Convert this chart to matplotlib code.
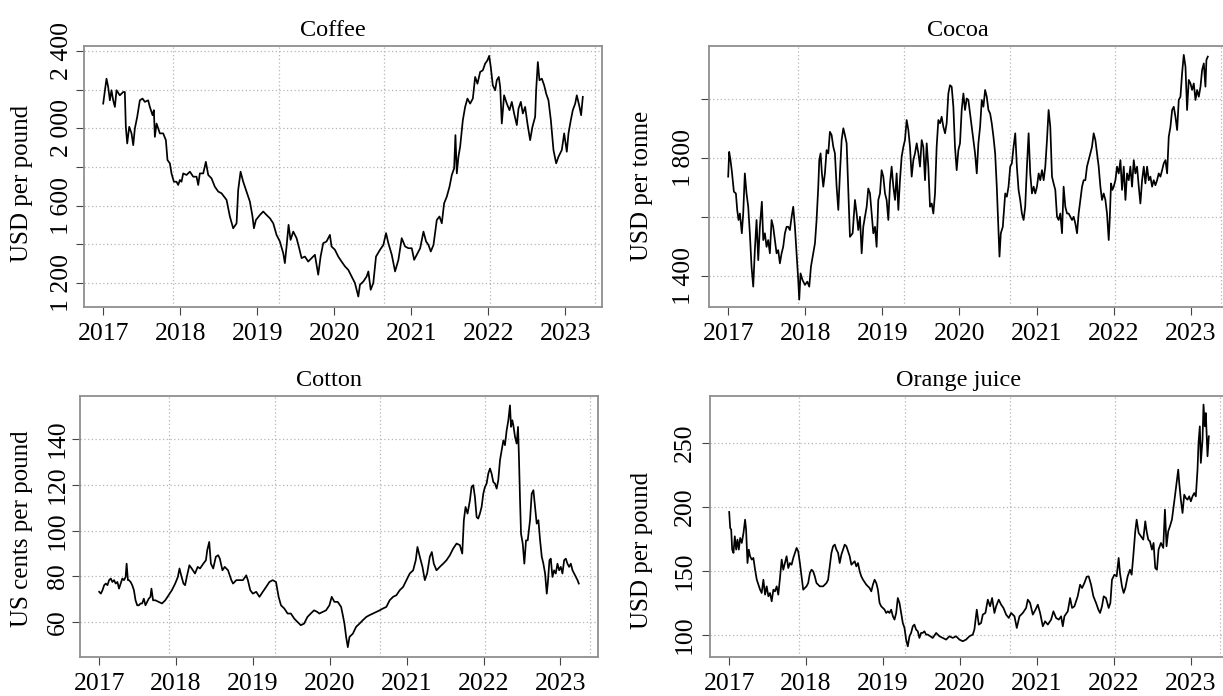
import calendar
import numpy as np
import pandas as pd
import matplotlib
matplotlib.use("Agg")
import matplotlib.pyplot as plt
import matplotlib.dates as mdates

# Preços diários (amostrados) de commodities, 2017 – mar/2023: (ano decimal, preço)
COFFEE = [
    (2017.000, 2128), (2017.043, 2257), (2017.065, 2214), (2017.087, 2145), (2017.108, 2197),
    (2017.130, 2145), (2017.152, 2111), (2017.173, 2197), (2017.216, 2171), (2017.260, 2188),
    (2017.281, 2188), (2017.294, 2008), (2017.312, 1922), (2017.338, 2008), (2017.368, 1974),
    (2017.390, 1913), (2017.411, 1999), (2017.442, 2060), (2017.476, 2145), (2017.511, 2154),
    (2017.541, 2137), (2017.584, 2145), (2017.606, 2111), (2017.641, 2068), (2017.658, 2094),
    (2017.671, 1956), (2017.693, 2025), (2017.736, 1974), (2017.779, 1974), (2017.814, 1939),
    (2017.835, 1836), (2017.866, 1819), (2017.887, 1767), (2017.918, 1724), (2017.952, 1724),
    (2017.974, 1707), (2017.996, 1733), (2018.017, 1724), (2018.039, 1767), (2018.082, 1759),
    (2018.126, 1776), (2018.169, 1750), (2018.212, 1750), (2018.234, 1707), (2018.255, 1767),
    (2018.299, 1767), (2018.333, 1827), (2018.364, 1759), (2018.407, 1741), (2018.450, 1698),
    (2018.494, 1673), (2018.537, 1664), (2018.602, 1630), (2018.645, 1544), (2018.688, 1483),
    (2018.732, 1509), (2018.753, 1681), (2018.784, 1776), (2018.818, 1724), (2018.861, 1673),
    (2018.905, 1621), (2018.939, 1544), (2018.957, 1483), (2018.983, 1526), (2019.035, 1552),
    (2019.078, 1570), (2019.121, 1552), (2019.165, 1535), (2019.208, 1509), (2019.251, 1449),
    (2019.294, 1415), (2019.338, 1354), (2019.359, 1303), (2019.381, 1389), (2019.407, 1501),
    (2019.433, 1423), (2019.468, 1466), (2019.511, 1432), (2019.545, 1380), (2019.576, 1329),
    (2019.619, 1337), (2019.662, 1311), (2019.706, 1329), (2019.749, 1346), (2019.792, 1243),
    (2019.823, 1337), (2019.857, 1406), (2019.900, 1415), (2019.944, 1449), (2019.965, 1389),
    (2020.009, 1372), (2020.052, 1337), (2020.095, 1311), (2020.139, 1286), (2020.182, 1268),
    (2020.225, 1234), (2020.268, 1200), (2020.312, 1130), (2020.333, 1191), (2020.377, 1208),
    (2020.420, 1234), (2020.442, 1260), (2020.472, 1165), (2020.506, 1200), (2020.541, 1337),
    (2020.593, 1372), (2020.636, 1397), (2020.671, 1458), (2020.701, 1406), (2020.745, 1346),
    (2020.788, 1260), (2020.831, 1320), (2020.874, 1432), (2020.918, 1389), (2020.961, 1380),
    (2021.004, 1380), (2021.035, 1320), (2021.069, 1346), (2021.113, 1380), (2021.156, 1466),
    (2021.190, 1415), (2021.221, 1397), (2021.251, 1363), (2021.286, 1397), (2021.329, 1526),
    (2021.364, 1544), (2021.394, 1509), (2021.424, 1612), (2021.459, 1647), (2021.494, 1698),
    (2021.524, 1759), (2021.554, 1793), (2021.571, 1965), (2021.589, 1767), (2021.610, 1853),
    (2021.632, 1905), (2021.667, 2042), (2021.697, 2111), (2021.727, 2154), (2021.762, 2128),
    (2021.797, 2154), (2021.827, 2266), (2021.857, 2231), (2021.892, 2292), (2021.926, 2300),
    (2021.957, 2335), (2021.987, 2352), (2022.009, 2375), (2022.030, 2317), (2022.056, 2223),
    (2022.087, 2197), (2022.108, 2249), (2022.134, 2266), (2022.152, 2214), (2022.173, 2025),
    (2022.203, 2171), (2022.238, 2128), (2022.273, 2094), (2022.303, 2137), (2022.333, 2077),
    (2022.368, 2017), (2022.390, 2102), (2022.420, 2137), (2022.446, 2077), (2022.476, 2111),
    (2022.506, 2025), (2022.541, 1939), (2022.571, 2008), (2022.606, 2060), (2022.619, 2197),
    (2022.641, 2343), (2022.662, 2249), (2022.693, 2257), (2022.723, 2223), (2022.749, 2180),
    (2022.779, 2145), (2022.810, 2042), (2022.844, 1888), (2022.879, 1819), (2022.909, 1853),
    (2022.952, 1888), (2022.983, 1974), (2023.017, 1879), (2023.039, 1974), (2023.069, 2042),
    (2023.095, 2094), (2023.126, 2128), (2023.147, 2171), (2023.182, 2111), (2023.203, 2068),
    (2023.225, 2163),
]

COCOA = [
    (2017.000, 1737), (2017.013, 1821), (2017.030, 1793), (2017.048, 1754), (2017.074, 1686),
    (2017.100, 1680), (2017.117, 1624), (2017.134, 1590), (2017.152, 1612), (2017.177, 1545),
    (2017.195, 1612), (2017.216, 1748), (2017.238, 1680), (2017.260, 1635), (2017.281, 1545),
    (2017.303, 1432), (2017.325, 1364), (2017.346, 1488), (2017.368, 1590), (2017.390, 1454),
    (2017.411, 1567), (2017.437, 1652), (2017.455, 1522), (2017.476, 1545), (2017.498, 1499),
    (2017.519, 1522), (2017.541, 1477), (2017.563, 1590), (2017.584, 1567), (2017.606, 1522),
    (2017.628, 1477), (2017.649, 1488), (2017.671, 1443), (2017.693, 1477), (2017.714, 1499),
    (2017.736, 1545), (2017.758, 1567), (2017.779, 1567), (2017.801, 1556), (2017.823, 1601),
    (2017.844, 1635), (2017.866, 1567), (2017.887, 1477), (2017.909, 1386), (2017.922, 1320),
    (2017.939, 1409), (2017.965, 1386), (2017.996, 1370), (2018.026, 1381), (2018.052, 1364),
    (2018.074, 1432), (2018.104, 1477), (2018.126, 1511), (2018.147, 1590), (2018.169, 1703),
    (2018.182, 1793), (2018.199, 1816), (2018.216, 1748), (2018.234, 1703), (2018.255, 1748),
    (2018.277, 1827), (2018.299, 1816), (2018.320, 1889), (2018.342, 1878), (2018.364, 1838),
    (2018.385, 1816), (2018.407, 1703), (2018.429, 1624), (2018.450, 1748), (2018.472, 1861),
    (2018.494, 1901), (2018.515, 1878), (2018.537, 1850), (2018.558, 1692), (2018.580, 1533),
    (2018.615, 1545), (2018.645, 1658), (2018.667, 1612), (2018.688, 1556), (2018.710, 1601),
    (2018.732, 1477), (2018.753, 1567), (2018.775, 1601), (2018.797, 1635), (2018.818, 1697),
    (2018.840, 1680), (2018.861, 1612), (2018.883, 1545), (2018.905, 1567), (2018.926, 1499),
    (2018.948, 1658), (2018.970, 1680), (2018.991, 1759), (2019.013, 1737), (2019.035, 1680),
    (2019.056, 1658), (2019.078, 1590), (2019.100, 1714), (2019.121, 1771), (2019.143, 1703),
    (2019.165, 1658), (2019.186, 1748), (2019.208, 1624), (2019.229, 1725), (2019.251, 1805),
    (2019.273, 1838), (2019.294, 1861), (2019.316, 1929), (2019.338, 1895), (2019.359, 1838),
    (2019.381, 1737), (2019.403, 1793), (2019.424, 1816), (2019.446, 1850), (2019.468, 1816),
    (2019.489, 1771), (2019.511, 1861), (2019.532, 1838), (2019.554, 1725), (2019.576, 1850),
    (2019.597, 1771), (2019.619, 1635), (2019.641, 1646), (2019.662, 1612), (2019.684, 1680),
    (2019.705, 1838), (2019.727, 1929), (2019.749, 1918), (2019.770, 1940), (2019.792, 1906),
    (2019.814, 1884), (2019.835, 1918), (2019.857, 2019), (2019.878, 2047), (2019.900, 2042),
    (2019.922, 1974), (2019.943, 1838), (2019.965, 1759), (2019.987, 1827), (2020.008, 1850),
    (2020.030, 1963), (2020.052, 2019), (2020.073, 1963), (2020.095, 2002), (2020.116, 1997),
    (2020.138, 1951), (2020.160, 1906), (2020.181, 1861), (2020.203, 1816), (2020.225, 1748),
    (2020.246, 1850), (2020.268, 1906), (2020.290, 1997), (2020.311, 1974), (2020.333, 2031),
    (2020.354, 2008), (2020.376, 1963), (2020.398, 1951), (2020.419, 1918), (2020.441, 1872),
    (2020.463, 1816), (2020.484, 1703), (2020.506, 1556), (2020.519, 1466), (2020.536, 1545),
    (2020.562, 1567), (2020.593, 1680), (2020.614, 1669), (2020.636, 1703), (2020.658, 1771),
    (2020.679, 1782), (2020.701, 1838), (2020.723, 1884), (2020.744, 1771), (2020.766, 1692),
    (2020.787, 1658), (2020.809, 1612), (2020.831, 1590), (2020.852, 1635), (2020.874, 1771),
    (2020.896, 1884), (2020.917, 1748), (2020.939, 1680), (2020.961, 1703), (2020.982, 1680),
    (2021.004, 1703), (2021.026, 1748), (2021.047, 1725), (2021.069, 1759), (2021.091, 1725),
    (2021.112, 1771), (2021.134, 1861), (2021.155, 1963), (2021.177, 1906), (2021.199, 1737),
    (2021.220, 1714), (2021.242, 1692), (2021.264, 1601), (2021.285, 1590), (2021.307, 1612),
    (2021.329, 1545), (2021.350, 1703), (2021.372, 1635), (2021.394, 1612), (2021.415, 1612),
    (2021.437, 1601), (2021.459, 1590), (2021.480, 1601), (2021.502, 1578), (2021.524, 1545),
    (2021.545, 1612), (2021.567, 1658), (2021.589, 1703), (2021.610, 1725), (2021.632, 1725),
    (2021.653, 1771), (2021.675, 1793), (2021.697, 1816), (2021.718, 1838), (2021.740, 1884),
    (2021.762, 1861), (2021.783, 1816), (2021.805, 1771), (2021.827, 1703), (2021.848, 1658),
    (2021.870, 1680), (2021.892, 1658), (2021.913, 1612), (2021.935, 1522), (2021.948, 1590),
    (2021.965, 1714), (2021.983, 1692), (2022.000, 1703), (2022.022, 1725), (2022.043, 1771),
    (2022.065, 1748), (2022.087, 1793), (2022.108, 1692), (2022.130, 1771), (2022.152, 1658),
    (2022.173, 1748), (2022.195, 1725), (2022.216, 1771), (2022.238, 1703), (2022.260, 1793),
    (2022.281, 1748), (2022.303, 1771), (2022.325, 1703), (2022.346, 1646), (2022.368, 1725),
    (2022.390, 1771), (2022.411, 1714), (2022.433, 1771), (2022.455, 1725), (2022.476, 1737),
    (2022.498, 1703), (2022.519, 1725), (2022.541, 1708), (2022.563, 1725), (2022.584, 1748),
    (2022.606, 1737), (2022.628, 1759), (2022.649, 1782), (2022.671, 1793), (2022.693, 1748),
    (2022.714, 1872), (2022.736, 1906), (2022.758, 1963), (2022.779, 1974), (2022.801, 1940),
    (2022.823, 1895), (2022.844, 1997), (2022.866, 2008), (2022.887, 2087), (2022.909, 2150),
    (2022.931, 2110), (2022.952, 1963), (2022.974, 2065), (2022.996, 2053), (2023.017, 2031),
    (2023.039, 2053), (2023.061, 1997), (2023.082, 2031), (2023.104, 2008), (2023.126, 2042),
    (2023.147, 2099), (2023.169, 2121), (2023.190, 2042), (2023.203, 2133), (2023.221, 2144),
]

COTTON = [
    (2017.000, 73.2), (2017.022, 72.4), (2017.043, 73.9), (2017.065, 76.1), (2017.086, 76.8),
    (2017.108, 76.1), (2017.129, 78.3), (2017.151, 79.0), (2017.172, 77.5), (2017.194, 78.3),
    (2017.215, 76.8), (2017.237, 77.5), (2017.258, 74.6), (2017.280, 76.8), (2017.301, 79.0),
    (2017.323, 78.3), (2017.344, 79.7), (2017.357, 85.5), (2017.374, 78.3), (2017.387, 78.3),
    (2017.409, 77.5), (2017.430, 76.1), (2017.452, 73.9), (2017.473, 69.5), (2017.495, 67.3),
    (2017.516, 67.3), (2017.538, 68.1), (2017.559, 68.1), (2017.581, 70.2), (2017.602, 67.3),
    (2017.624, 68.8), (2017.645, 70.2), (2017.667, 71.0), (2017.680, 74.6), (2017.701, 69.5),
    (2017.731, 69.5), (2017.774, 68.8), (2017.817, 68.1), (2017.860, 69.5), (2017.903, 71.7),
    (2017.946, 73.9), (2017.989, 76.8), (2018.024, 79.7), (2018.045, 83.4), (2018.067, 80.4),
    (2018.097, 76.8), (2018.118, 76.1), (2018.140, 79.7), (2018.174, 84.8), (2018.204, 83.4),
    (2018.247, 81.2), (2018.282, 84.1), (2018.312, 83.4), (2018.355, 85.5), (2018.389, 87.0),
    (2018.406, 91.4), (2018.432, 95.0), (2018.454, 85.5), (2018.484, 83.4), (2018.518, 88.5),
    (2018.548, 89.2), (2018.570, 87.7), (2018.604, 82.6), (2018.634, 84.1), (2018.677, 82.6),
    (2018.720, 78.3), (2018.742, 76.8), (2018.785, 78.3), (2018.828, 78.3), (2018.871, 78.3),
    (2018.914, 80.4), (2018.935, 78.3), (2018.966, 73.9), (2019.000, 72.4), (2019.043, 73.2),
    (2019.086, 71.0), (2019.129, 73.2), (2019.172, 75.3), (2019.215, 77.5), (2019.258, 78.3),
    (2019.301, 77.5), (2019.335, 71.0), (2019.366, 67.3), (2019.409, 65.9), (2019.452, 63.7),
    (2019.495, 63.7), (2019.538, 61.5), (2019.581, 60.0), (2019.624, 58.6), (2019.667, 59.3),
    (2019.710, 62.2), (2019.753, 63.7), (2019.796, 65.1), (2019.839, 64.4), (2019.865, 63.7),
    (2019.909, 64.4), (2019.952, 65.1), (2019.996, 67.3), (2020.026, 71.0), (2020.061, 68.8),
    (2020.104, 68.8), (2020.148, 66.6), (2020.170, 63.0), (2020.191, 59.3), (2020.213, 53.5),
    (2020.235, 49.0), (2020.257, 53.5), (2020.300, 54.9), (2020.343, 57.9), (2020.387, 59.3),
    (2020.430, 60.8), (2020.474, 62.2), (2020.517, 63.0), (2020.561, 63.7), (2020.604, 64.4),
    (2020.648, 65.1), (2020.691, 65.9), (2020.735, 66.6), (2020.778, 69.5), (2020.822, 71.0),
    (2020.865, 71.7), (2020.909, 73.9), (2020.952, 75.3), (2020.996, 78.3), (2021.039, 81.2),
    (2021.083, 82.6), (2021.117, 87.0), (2021.139, 92.8), (2021.170, 88.5), (2021.204, 84.1),
    (2021.235, 78.3), (2021.265, 81.2), (2021.300, 88.5), (2021.326, 90.6), (2021.352, 85.5),
    (2021.387, 82.6), (2021.430, 84.1), (2021.474, 85.5), (2021.517, 87.0), (2021.561, 89.2),
    (2021.604, 92.1), (2021.648, 94.3), (2021.691, 93.6), (2021.722, 89.9), (2021.743, 104.5),
    (2021.765, 110.3), (2021.791, 107.4), (2021.822, 113.2), (2021.843, 119.0), (2021.865, 119.8),
    (2021.887, 114.7), (2021.909, 105.9), (2021.930, 105.2), (2021.952, 107.4), (2021.974, 110.3),
    (2021.996, 116.1), (2022.017, 119.0), (2022.039, 120.5), (2022.061, 124.9), (2022.083, 127.1),
    (2022.104, 124.9), (2022.126, 121.2), (2022.148, 120.5), (2022.170, 118.3), (2022.191, 122.0),
    (2022.213, 130.7), (2022.235, 135.1), (2022.257, 139.4), (2022.278, 137.3), (2022.300, 143.8),
    (2022.322, 148.2), (2022.343, 154.7), (2022.357, 145.3), (2022.374, 148.2), (2022.387, 146.0),
    (2022.409, 140.9), (2022.430, 138.0), (2022.448, 145.3), (2022.461, 130.7), (2022.474, 113.2),
    (2022.487, 98.6), (2022.509, 94.3), (2022.530, 85.5), (2022.552, 95.7), (2022.574, 95.7),
    (2022.604, 104.5), (2022.626, 116.1), (2022.648, 117.6), (2022.670, 110.3), (2022.691, 103.0),
    (2022.713, 104.5), (2022.735, 95.7), (2022.757, 88.5), (2022.778, 85.5), (2022.800, 81.2),
    (2022.822, 72.4), (2022.835, 76.8), (2022.857, 87.0), (2022.874, 87.7), (2022.896, 79.7),
    (2022.917, 82.6), (2022.939, 81.2), (2022.961, 85.5), (2022.983, 82.6), (2023.004, 84.1),
    (2023.026, 81.2), (2023.048, 87.0), (2023.070, 87.7), (2023.091, 85.5), (2023.113, 84.1),
    (2023.135, 85.5), (2023.157, 82.6), (2023.178, 81.2), (2023.200, 79.7), (2023.222, 78.3),
    (2023.239, 76.8),
]

ORANGE_JUICE = [
    (2017.000, 196.1), (2017.013, 183.6), (2017.026, 182.3), (2017.039, 166.7), (2017.056, 164.1),
    (2017.073, 177.1), (2017.091, 166.7), (2017.108, 174.5), (2017.125, 166.7), (2017.143, 175.8),
    (2017.164, 171.9), (2017.186, 179.7), (2017.207, 190.1), (2017.220, 182.3), (2017.238, 156.2),
    (2017.255, 166.7), (2017.272, 161.5), (2017.294, 158.9), (2017.315, 160.2), (2017.337, 151.0),
    (2017.359, 143.2), (2017.380, 139.3), (2017.402, 135.4), (2017.423, 132.8), (2017.445, 143.2),
    (2017.467, 131.5), (2017.488, 138.0), (2017.510, 130.2), (2017.531, 132.8), (2017.553, 126.3),
    (2017.575, 135.4), (2017.596, 134.1), (2017.618, 138.0), (2017.639, 131.5), (2017.661, 144.5),
    (2017.683, 158.9), (2017.704, 151.0), (2017.726, 156.2), (2017.747, 161.5), (2017.769, 152.3),
    (2017.790, 156.2), (2017.812, 154.9), (2017.834, 160.2), (2017.855, 164.1), (2017.877, 168.0),
    (2017.898, 165.4), (2017.920, 156.2), (2017.942, 145.8), (2017.963, 135.4), (2017.985, 136.7),
    (2018.006, 138.0), (2018.028, 140.6), (2018.050, 148.4), (2018.071, 151.0), (2018.093, 149.7),
    (2018.114, 145.8), (2018.136, 140.6), (2018.158, 139.3), (2018.179, 138.0), (2018.222, 138.0),
    (2018.266, 140.6), (2018.287, 143.2), (2018.309, 153.6), (2018.330, 164.1), (2018.352, 169.3),
    (2018.374, 170.6), (2018.395, 166.7), (2018.417, 164.1), (2018.438, 156.2), (2018.460, 162.8),
    (2018.482, 166.7), (2018.503, 170.6), (2018.525, 169.3), (2018.546, 165.4), (2018.568, 161.5),
    (2018.590, 154.9), (2018.611, 156.2), (2018.633, 157.6), (2018.654, 153.6), (2018.676, 156.2),
    (2018.698, 149.7), (2018.719, 145.8), (2018.741, 143.2), (2018.784, 139.3), (2018.827, 136.7),
    (2018.849, 134.1), (2018.870, 139.3), (2018.892, 143.2), (2018.914, 140.6), (2018.935, 135.4),
    (2018.957, 125.0), (2018.978, 122.4), (2019.000, 121.1), (2019.022, 119.8), (2019.043, 117.2),
    (2019.065, 118.5), (2019.086, 117.2), (2019.108, 119.8), (2019.130, 114.6), (2019.151, 112.0),
    (2019.173, 117.2), (2019.194, 128.9), (2019.216, 125.0), (2019.238, 117.2), (2019.259, 109.4),
    (2019.281, 105.5), (2019.302, 96.4), (2019.324, 91.1), (2019.346, 99.0), (2019.367, 101.6),
    (2019.389, 106.8), (2019.410, 108.1), (2019.432, 104.2), (2019.454, 102.9), (2019.475, 97.7),
    (2019.497, 101.6), (2019.518, 101.6), (2019.540, 102.9), (2019.562, 100.3), (2019.583, 100.3),
    (2019.649, 97.7), (2019.693, 101.6), (2019.736, 99.0), (2019.779, 97.7), (2019.823, 96.4),
    (2019.866, 99.0), (2019.909, 97.7), (2019.952, 99.0), (2019.996, 96.4), (2020.039, 95.1),
    (2020.082, 96.4), (2020.126, 99.0), (2020.169, 100.3), (2020.190, 104.2), (2020.221, 119.8),
    (2020.247, 108.1), (2020.277, 109.4), (2020.299, 115.9), (2020.333, 117.2), (2020.364, 127.6),
    (2020.394, 122.4), (2020.420, 128.9), (2020.450, 117.2), (2020.472, 122.4), (2020.506, 127.6),
    (2020.537, 123.7), (2020.567, 121.1), (2020.602, 115.9), (2020.636, 113.3), (2020.667, 117.2),
    (2020.710, 114.6), (2020.740, 105.5), (2020.775, 114.6), (2020.818, 117.2), (2020.861, 121.1),
    (2020.883, 127.6), (2020.913, 125.0), (2020.948, 115.9), (2020.983, 119.8), (2021.013, 123.7),
    (2021.043, 117.2), (2021.078, 106.8), (2021.108, 110.7), (2021.143, 108.1), (2021.186, 112.0),
    (2021.216, 118.5), (2021.251, 113.3), (2021.286, 112.0), (2021.316, 114.6), (2021.338, 106.8),
    (2021.359, 114.6), (2021.403, 118.5), (2021.433, 128.9), (2021.459, 121.1), (2021.489, 122.4),
    (2021.532, 130.2), (2021.563, 139.3), (2021.589, 136.7), (2021.619, 140.6), (2021.649, 145.5),
    (2021.675, 145.8), (2021.706, 139.3), (2021.736, 130.2), (2021.771, 125.0), (2021.801, 119.8),
    (2021.823, 117.2), (2021.848, 122.4), (2021.870, 130.2), (2021.900, 128.9), (2021.935, 121.1),
    (2021.957, 125.0), (2021.978, 143.2), (2022.009, 147.1), (2022.039, 145.8), (2022.065, 160.2),
    (2022.082, 148.4), (2022.108, 138.0), (2022.130, 132.8), (2022.152, 136.7), (2022.182, 145.8),
    (2022.212, 151.0), (2022.234, 147.1), (2022.255, 161.5), (2022.281, 181.0), (2022.299, 190.1),
    (2022.325, 179.7), (2022.355, 177.1), (2022.385, 174.5), (2022.411, 188.8), (2022.429, 181.0),
    (2022.450, 174.5), (2022.472, 173.2), (2022.498, 166.7), (2022.519, 171.9), (2022.541, 152.3),
    (2022.563, 151.0), (2022.584, 166.7), (2022.615, 171.9), (2022.645, 168.0), (2022.667, 197.9),
    (2022.688, 169.3), (2022.710, 181.0), (2022.732, 184.9), (2022.758, 190.1), (2022.775, 197.9),
    (2022.797, 208.3), (2022.818, 218.8), (2022.840, 229.2), (2022.853, 218.8), (2022.874, 205.7),
    (2022.896, 195.3), (2022.918, 209.6), (2022.939, 207.0), (2022.961, 205.7), (2022.983, 208.3),
    (2023.004, 204.4), (2023.026, 208.3), (2023.048, 210.9), (2023.069, 208.3), (2023.091, 229.2),
    (2023.104, 250.0), (2023.121, 263.0), (2023.134, 234.4), (2023.156, 252.6), (2023.169, 280.0),
    (2023.186, 263.0), (2023.199, 273.4), (2023.221, 239.6), (2023.238, 255.2),
]

TITLES = ["Coffee", "Cocoa", "Cotton", "Orange juice"]
YLABELS = ["USD per pound", "USD per tonne", "US cents per pound", "USD per pound"]

COFFEE_YTICKS = [1200, 1400, 1600, 1800, 2000, 2200, 2400]
COFFEE_YTICKLABELS = ["1 200", "", "1 600", "", "2 000", "", "2 400"]
COCOA_YTICKS = [1400, 1600, 1800, 2000]
COCOA_YTICKLABELS = ["1 400", "", "1 800", ""]
COTTON_YTICKS = [60, 80, 100, 120, 140]
COTTON_YTICKLABELS = ["60", "80", "100", "120", "140"]
OJ_YTICKS = [100, 150, 200, 250]
OJ_YTICKLABELS = ["100", "150", "200", "250"]

YLIMS = [(1076, 2426), (1295, 2180), (44.7, 158.8), (82.8, 286.7)]

plt.rcParams["font.family"] = ["Liberation Serif", "DejaVu Serif"]
plt.rcParams["font.size"] = 18.5

W, H = 1223, 696
BOX = "#8f8f8f"
GRIDC = "#b5b5b5"


def to_dates(years):
    out = []
    for y in years:
        yr = int(y)
        ndays = 366 if calendar.isleap(yr) else 365
        out.append(pd.Timestamp(yr, 1, 1) + pd.Timedelta(days=(y - yr) * ndays))
    return pd.to_datetime(out)


def panel(fig, px, data, title, ylabel, yticks, yticklabels, ylim, ylab_xy, ypad):
    left, top, width, height = px
    ax = fig.add_axes([left / W, 1 - (top + height) / H, width / W, height / H])
    t, v = zip(*data)
    dates = to_dates(t)
    ax.plot(dates, v, color="black", lw=1.25, zorder=3)

    # eixo x como no R: faixa dos dados + 4% de cada lado
    t0, t1 = mdates.date2num(dates[0]), mdates.date2num(dates[-1])
    pad = 0.04 * (t1 - t0)
    ax.set_xlim(t0 - pad, t1 + pad)
    ax.set_ylim(*ylim)

    # grade do grid() do R: verticais em múltiplos de 500 dias, horizontais nos ticks
    for g in np.arange(17000, 20500, 500):
        if t0 - pad < g < t1 + pad:
            ax.axvline(g, color=GRIDC, lw=0.9, ls=(0, (1, 2)), zorder=1)
    for y in yticks:
        ax.axhline(y, color=GRIDC, lw=0.9, ls=(0, (1, 2)), zorder=1)

    ax.xaxis.set_major_locator(mdates.YearLocator())
    ax.xaxis.set_major_formatter(mdates.DateFormatter("%Y"))
    ax.set_yticks(yticks)
    ax.set_yticklabels(yticklabels)
    ax.tick_params(axis="x", length=6, width=0.8, color="#444444", pad=5.5)
    ax.tick_params(axis="y", length=6, width=0.8, color="#444444", pad=ypad,
                   labelrotation=90)
    for lbl in ax.get_yticklabels():
        lbl.set_va("center")
    for s in ax.spines.values():
        s.set_color(BOX)
        s.set_linewidth(1.3)

    ax.set_title(title, fontsize=17.5, x=0.48, pad=7)
    ax.set_ylabel(ylabel, fontsize=18)
    ax.yaxis.set_label_coords(*ylab_xy)
    return ax


fig = plt.figure(figsize=(W / 100, H / 100), dpi=100)

panel(fig, (84, 46, 518, 261), COFFEE, TITLES[0], YLABELS[0],
      COFFEE_YTICKS, COFFEE_YTICKLABELS, YLIMS[0], (-0.098, 0.473), 2.0)
panel(fig, (709, 46, 518, 261), COCOA, TITLES[1], YLABELS[1],
      COCOA_YTICKS, COCOA_YTICKLABELS, YLIMS[1], (-0.108, 0.464), 4.0)
panel(fig, (80, 396, 518, 261), COTTON, TITLES[2], YLABELS[2],
      COTTON_YTICKS, COTTON_YTICKLABELS, YLIMS[2], (-0.091, 0.49), 2.0)
panel(fig, (710, 396, 518, 261), ORANGE_JUICE, TITLES[3], YLABELS[3],
      OJ_YTICKS, OJ_YTICKLABELS, YLIMS[3], (-0.110, 0.41), 4.0)

fig.savefig("out.png", dpi=100)
